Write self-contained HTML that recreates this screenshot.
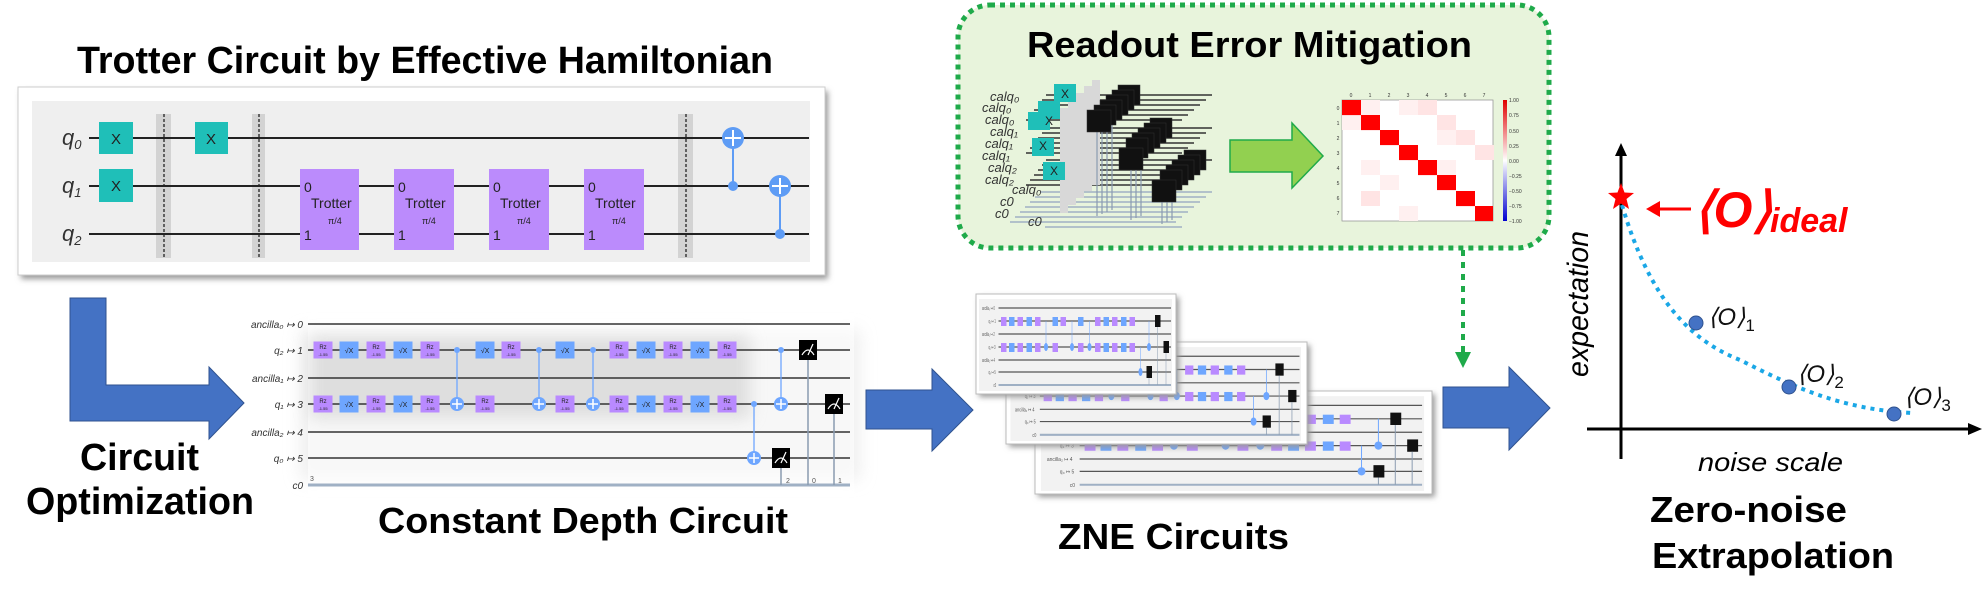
<!DOCTYPE html>
<html><head><meta charset="utf-8"><style>
html,body{margin:0;padding:0;background:#fff;}
svg{display:block;}
text{font-family:"Liberation Sans",sans-serif;}
</style></head><body>
<svg width="1983" height="600" viewBox="0 0 1983 600" xmlns="http://www.w3.org/2000/svg">
<defs>
<filter id="sh" x="-10%" y="-10%" width="120%" height="130%"><feGaussianBlur stdDeviation="3"/></filter>
<filter id="blur8" x="-20%" y="-50%" width="140%" height="200%"><feGaussianBlur stdDeviation="8"/></filter>
<linearGradient id="cb" x1="0" y1="0" x2="0" y2="1">
<stop offset="0" stop-color="#e00000"/><stop offset="0.5" stop-color="#ffffff"/><stop offset="1" stop-color="#0000d0"/></linearGradient>
<g id="rz"><rect x="-9.5" y="-8.5" width="19" height="17" fill="#b98aff"/><text x="0" y="-1" font-size="6" text-anchor="middle" fill="#222">Rz</text><text x="0" y="6" font-size="4" text-anchor="middle" fill="#222">-1.55</text></g>
<g id="sx"><rect x="-9.5" y="-8.5" width="19" height="17" fill="#6ea6ff"/><text x="0" y="3" font-size="7" text-anchor="middle" fill="#222">√X</text></g>
<g id="ctl"><circle r="3" fill="#6ea6ff"/></g>
<g id="tgt"><circle r="7" fill="#6ea6ff"/><path d="M-5 0H5M0 -5V5" stroke="#fff" stroke-width="1.5"/></g>
<g id="meas"><rect x="-9" y="-10" width="18" height="20" fill="#000"/><path d="M-6 5 Q0 -5 6 5" stroke="#fff" fill="none" stroke-width="1.2"/><path d="M0 5 L5 -6" stroke="#fff" stroke-width="1.2"/></g>
<g id="zc">
<rect x="6" y="5" width="386" height="92" fill="#f2f2f2"/>
<g stroke="#555" stroke-width="1.2"><path d="M45 14H390M45 27H390M45 40H390M45 53H390M45 66H390M45 78H390"/></g>
<path d="M45 91H390" stroke="#9fb0c4" stroke-width="2"/>
<g font-size="5" fill="#555"><text x="12" y="16">ancilla₀ ↦ 0</text><text x="25" y="29">q₂ ↦ 1</text><text x="12" y="42">ancilla₁ ↦ 2</text><text x="25" y="55">q₁ ↦ 3</text><text x="12" y="68">ancilla₂ ↦ 4</text><text x="25" y="80">q₀ ↦ 5</text><text x="35" y="93">c0</text></g>
<g fill="#b98aff"><rect x="50" y="23" width="11" height="9"/><rect x="83" y="23" width="11" height="9"/><rect x="118" y="23" width="11" height="9"/><rect x="169" y="23" width="11" height="9"/><rect x="238" y="23" width="11" height="9"/><rect x="272" y="23" width="11" height="9"/><rect x="307" y="23" width="11" height="9"/>
<rect x="50" y="49" width="11" height="9"/><rect x="83" y="49" width="11" height="9"/><rect x="118" y="49" width="11" height="9"/><rect x="153" y="49" width="11" height="9"/><rect x="204" y="49" width="11" height="9"/><rect x="238" y="49" width="11" height="9"/><rect x="272" y="49" width="11" height="9"/><rect x="307" y="49" width="11" height="9"/></g>
<g fill="#6ea6ff"><rect x="66" y="23" width="11" height="9"/><rect x="101" y="23" width="11" height="9"/><rect x="153" y="23" width="11" height="9"/><rect x="204" y="23" width="11" height="9"/><rect x="255" y="23" width="11" height="9"/><rect x="290" y="23" width="11" height="9"/>
<rect x="66" y="49" width="11" height="9"/><rect x="101" y="49" width="11" height="9"/><rect x="255" y="49" width="11" height="9"/><rect x="290" y="49" width="11" height="9"/></g>
<g stroke="#6ea6ff" stroke-width="1"><path d="M140 27V53M192 27V53M227 27V53M346 27V53M329 53V78"/></g>
<g fill="#6ea6ff"><circle cx="140" cy="53" r="4"/><circle cx="192" cy="53" r="4"/><circle cx="227" cy="53" r="4"/><circle cx="346" cy="53" r="4"/><circle cx="329" cy="78" r="4"/></g>
<g fill="#111"><rect x="358" y="21" width="11" height="12"/><rect x="375" y="47" width="11" height="12"/><rect x="341" y="72" width="11" height="12"/></g>
<g stroke="#8a9bb0" stroke-width="1"><path d="M363 33V91M380 59V91M346 84V91"/></g>
</g>
</defs>

<text x="77" y="73" font-size="38" font-weight="bold" textLength="696" lengthAdjust="spacingAndGlyphs">Trotter Circuit by Effective Hamiltonian</text>
<rect x="21" y="91" width="807" height="188" fill="#999" filter="url(#sh)"/>
<rect x="18" y="87" width="807" height="188" fill="#fff" stroke="#ccc"/>
<rect x="32" y="101" width="778" height="161" fill="#efefef"/>
<g fill="#d3d3d3"><rect x="156" y="114" width="15" height="144"/><rect x="252" y="114" width="13" height="144"/><rect x="678" y="114" width="15" height="144"/></g>
<g stroke="#222" stroke-width="1.3" stroke-dasharray="3,2"><path d="M164 114V258M259 114V258M686 114V258"/></g>
<g stroke="#222" stroke-width="2"><path d="M89 138H809M89 186H809M89 234H809"/></g>
<g font-family="Liberation Serif" font-style="italic" font-size="22" fill="#333">
<text x="62" y="145">q<tspan font-size="13" dy="4">0</tspan></text>
<text x="62" y="193">q<tspan font-size="13" dy="4">1</tspan></text>
<text x="62" y="241">q<tspan font-size="13" dy="4">2</tspan></text></g>
<g fill="#1fbfb8"><rect x="99" y="122" width="34" height="32"/><rect x="99" y="169" width="34" height="33"/><rect x="195" y="122" width="33" height="32"/></g>
<g font-size="15" fill="#222" text-anchor="middle"><text x="116" y="144">X</text><text x="116" y="191">X</text><text x="211" y="144">X</text></g>
<g fill="#bb8bfc"><rect x="300" y="169" width="59" height="81"/><rect x="394" y="169" width="60" height="81"/><rect x="489" y="169" width="60" height="81"/><rect x="584" y="169" width="60" height="81"/></g>
<g font-size="14" fill="#222">
<text x="304" y="192">0</text><text x="304" y="240">1</text><text x="311" y="208">Trotter</text><text x="328" y="224" font-size="9">π/4</text>
<text x="398" y="192">0</text><text x="398" y="240">1</text><text x="405" y="208">Trotter</text><text x="422" y="224" font-size="9">π/4</text>
<text x="493" y="192">0</text><text x="493" y="240">1</text><text x="500" y="208">Trotter</text><text x="517" y="224" font-size="9">π/4</text>
<text x="588" y="192">0</text><text x="588" y="240">1</text><text x="595" y="208">Trotter</text><text x="612" y="224" font-size="9">π/4</text></g>
<g stroke="#5e9cf5" stroke-width="2"><path d="M733 138V186M780 186V234"/></g>
<g fill="#5e9cf5"><circle cx="733" cy="186" r="5"/><circle cx="780" cy="234" r="5"/><circle cx="733" cy="138" r="11"/><circle cx="780" cy="186" r="11"/></g>
<g stroke="#fff" stroke-width="2"><path d="M725 138H741M733 130V146M772 186H788M780 178V194"/></g>

<path d="M70 298H106V385H209V367L244 403L209 439V421H70Z" fill="#4472c4" stroke="#2f528f" stroke-width="1"/>
<text x="80" y="470" font-size="38" font-weight="bold" textLength="119" lengthAdjust="spacingAndGlyphs">Circuit</text>
<text x="26" y="514" font-size="38" font-weight="bold" textLength="228" lengthAdjust="spacingAndGlyphs">Optimization</text>

<rect x="300" y="330" width="560" height="150" fill="#e8e8e8" filter="url(#blur8)" opacity="0.7"/>
<rect x="308" y="316" width="546" height="180" fill="#fff" opacity="0.55"/>
<rect x="310" y="336" width="440" height="82" fill="#d8d8d8" filter="url(#blur8)" opacity="0.8"/>
<g stroke="#333" stroke-width="1.5"><path d="M308 324H850M308 350H850M308 378H850M308 404H850M308 432H850M308 458H850"/></g>
<path d="M308 485H850" stroke="#9fb0c4" stroke-width="3"/>
<g font-size="10" fill="#333" text-anchor="end" font-style="italic">
<text x="303" y="328">ancilla₀ ↦ 0</text><text x="303" y="354">q₂ ↦ 1</text><text x="303" y="382">ancilla₁ ↦ 2</text><text x="303" y="408">q₁ ↦ 3</text><text x="303" y="436">ancilla₂ ↦ 4</text><text x="303" y="462">q₀ ↦ 5</text><text x="303" y="489">c0</text></g>
<g stroke="#6ea6ff" stroke-width="1.3"><path d="M457 350V404M539 350V404M593 350V404M781 350V404M754 404V458"/></g>
<g stroke="#8a9bb0" stroke-width="1.5"><path d="M808 360V485M834 414V485M781 468V485"/></g>
<use href="#rz" x="323" y="350"/><use href="#sx" x="349" y="350"/><use href="#rz" x="376" y="350"/><use href="#sx" x="403" y="350"/><use href="#rz" x="430" y="350"/><use href="#ctl" x="457" y="350"/><use href="#sx" x="485" y="350"/><use href="#rz" x="511" y="350"/><use href="#ctl" x="539" y="350"/><use href="#sx" x="565" y="350"/><use href="#ctl" x="593" y="350"/><use href="#rz" x="619" y="350"/><use href="#sx" x="646" y="350"/><use href="#rz" x="673" y="350"/><use href="#sx" x="700" y="350"/><use href="#rz" x="727" y="350"/><use href="#ctl" x="781" y="350"/><use href="#meas" x="808" y="350"/>
<use href="#rz" x="323" y="404"/><use href="#sx" x="349" y="404"/><use href="#rz" x="376" y="404"/><use href="#sx" x="403" y="404"/><use href="#rz" x="430" y="404"/><use href="#tgt" x="457" y="404"/><use href="#rz" x="485" y="404"/><use href="#tgt" x="539" y="404"/><use href="#rz" x="565" y="404"/><use href="#tgt" x="593" y="404"/><use href="#rz" x="619" y="404"/><use href="#sx" x="646" y="404"/><use href="#rz" x="673" y="404"/><use href="#sx" x="700" y="404"/><use href="#rz" x="727" y="404"/><use href="#ctl" x="754" y="404"/><use href="#tgt" x="781" y="404"/><use href="#meas" x="834" y="404"/>
<use href="#tgt" x="754" y="458"/><use href="#meas" x="781" y="458"/>
<g font-size="7" fill="#555"><text x="310" y="481">3</text><text x="786" y="483">2</text><text x="812" y="483">0</text><text x="838" y="483">1</text></g>
<text x="378" y="533" font-size="36" font-weight="bold" textLength="410" lengthAdjust="spacingAndGlyphs">Constant Depth Circuit</text>

<path d="M866 390H932V369L973 410L932 451V429H866Z" fill="#4472c4" stroke="#2f528f"/>

<rect x="958" y="5" width="591" height="243" rx="32" fill="#e8f4dc" stroke="#1faa4a" stroke-width="5" stroke-dasharray="5,5"/>
<text x="1027" y="57" font-size="36" font-weight="bold" textLength="445" lengthAdjust="spacingAndGlyphs">Readout Error Mitigation</text>
<g stroke="#333" stroke-width="1.5">
<path d="M1046 95H1212M1042 100H1206M1038 105H1200M1034 110H1194M1030 115H1188M1026 120H1182"/>
<path d="M1046 128H1212M1042 133H1206M1038 138H1200M1034 143H1194M1030 148H1188M1026 153H1182"/>
<path d="M1046 160H1212M1042 165H1206M1038 170H1200M1034 175H1194M1030 180H1188M1026 185H1182"/></g>
<g stroke="#9fb0c4" stroke-width="1.5"><path d="M1040 192H1212M1035 197H1206M1030 202H1200M1025 207H1194M1020 212H1188M1015 217H1182M1010 222H1176M1045 227H1182"/></g>
<g fill="#d8d8d8"><rect x="1060" y="108" width="8" height="105"/><rect x="1068" y="100" width="8" height="105"/><rect x="1076" y="93" width="8" height="105"/><rect x="1084" y="86" width="8" height="105"/><rect x="1092" y="80" width="8" height="105"/></g>
<g fill="#1fbfb8"><rect x="1054" y="84" width="22" height="18"/><rect x="1038" y="101" width="22" height="18"/><rect x="1028" y="112" width="22" height="18"/><rect x="1032" y="138" width="22" height="18"/><rect x="1043" y="162" width="22" height="18"/></g>
<g font-size="12" fill="#222" text-anchor="middle"><text x="1065" y="98">X</text><text x="1049" y="125">X</text><text x="1043" y="150">X</text><text x="1054" y="175">X</text></g>
<g stroke="#8a9bb0" stroke-width="1.2"><path d="M1097 130V216M1102 125V214M1107 120V212M1112 115V210M1131 162V220M1136 157V218M1141 152V216M1162 195V224M1167 190V222M1172 185V220"/></g>
<g fill="#111" stroke="#333" stroke-width="0.5">
<rect x="1118" y="85" width="22" height="20"/><rect x="1112" y="90" width="22" height="20"/><rect x="1106" y="95" width="22" height="20"/><rect x="1100" y="100" width="22" height="20"/><rect x="1094" y="105" width="22" height="20"/><rect x="1087" y="110" width="24" height="22"/>
<rect x="1150" y="118" width="22" height="20"/><rect x="1144" y="123" width="22" height="20"/><rect x="1138" y="128" width="22" height="20"/><rect x="1132" y="133" width="22" height="20"/><rect x="1126" y="138" width="22" height="20"/><rect x="1119" y="148" width="24" height="22"/>
<rect x="1184" y="150" width="22" height="20"/><rect x="1178" y="155" width="22" height="20"/><rect x="1172" y="160" width="22" height="20"/><rect x="1166" y="165" width="22" height="20"/><rect x="1160" y="170" width="22" height="20"/><rect x="1152" y="180" width="24" height="22"/></g>
<g font-size="13" fill="#333" font-style="italic"><text x="990" y="101">calq₀</text><text x="982" y="112">calq₀</text><text x="985" y="124">calq₀</text><text x="990" y="136">calq₁</text><text x="985" y="148">calq₁</text><text x="982" y="160">calq₁</text><text x="988" y="172">calq₂</text><text x="985" y="184">calq₂</text><text x="1012" y="194">calq₀</text><text x="1000" y="206">c0</text><text x="995" y="218">c0</text><text x="1028" y="226">c0</text></g>
<path d="M1230 140H1292V123L1323 156L1292 188V172H1230Z" fill="#92d050" stroke="#1faa4a" stroke-width="1.5"/>
<rect x="1342" y="100" width="151" height="121" fill="#fff" stroke="#999" stroke-width="0.8"/>
<g fill="#fff0f0"><rect x="1361" y="100" width="19" height="15"/><rect x="1399" y="100" width="19" height="15"/><rect x="1342" y="115" width="19" height="15"/><rect x="1437" y="130" width="19" height="15"/><rect x="1361" y="160" width="19" height="15"/><rect x="1380" y="175" width="19" height="15"/><rect x="1399" y="206" width="19" height="15"/><rect x="1437" y="160" width="19" height="15"/></g>
<g fill="#ffe4e4"><rect x="1418" y="100" width="19" height="15"/><rect x="1437" y="115" width="19" height="15"/><rect x="1456" y="130" width="19" height="15"/><rect x="1475" y="145" width="19" height="15"/><rect x="1361" y="191" width="19" height="15"/></g>
<g fill="#ff0000"><rect x="1342" y="100" width="19" height="15.1"/><rect x="1361" y="115" width="19" height="15.1"/><rect x="1380" y="130" width="19" height="15.1"/><rect x="1399" y="145" width="19" height="15.1"/><rect x="1418" y="160" width="19" height="15.1"/><rect x="1437" y="175" width="19" height="15.1"/><rect x="1456" y="191" width="19" height="15.1"/><rect x="1475" y="206" width="18" height="15"/></g>
<g font-size="5" fill="#333" text-anchor="middle"><text x="1351" y="97">0</text><text x="1370" y="97">1</text><text x="1389" y="97">2</text><text x="1408" y="97">3</text><text x="1427" y="97">4</text><text x="1446" y="97">5</text><text x="1465" y="97">6</text><text x="1484" y="97">7</text>
<text x="1338" y="110">0</text><text x="1338" y="125">1</text><text x="1338" y="140">2</text><text x="1338" y="155">3</text><text x="1338" y="170">4</text><text x="1338" y="185">5</text><text x="1338" y="200">6</text><text x="1338" y="215">7</text></g>
<rect x="1503" y="100" width="4" height="121" fill="url(#cb)"/>
<g font-size="5" fill="#333"><text x="1509" y="102">1.00</text><text x="1509" y="117">0.75</text><text x="1509" y="133">0.50</text><text x="1509" y="148">0.25</text><text x="1509" y="163">0.00</text><text x="1509" y="178">−0.25</text><text x="1509" y="193">−0.50</text><text x="1509" y="208">−0.75</text><text x="1509" y="223">−1.00</text></g>
<path d="M1463 250V352" stroke="#1faa4a" stroke-width="4" stroke-dasharray="6,6"/>
<path d="M1455 352H1471L1463 368Z" fill="#1faa4a"/>

<rect x="1038" y="394" width="397" height="103" fill="#999" filter="url(#sh)"/>
<rect x="1035" y="391" width="397" height="103" fill="#fff" stroke="#bbb"/>
<g transform="translate(1035 391) scale(0.9925 1.03)"><use href="#zc"/></g>
<rect x="1009" y="345" width="301" height="102" fill="#999" filter="url(#sh)"/>
<rect x="1006" y="342" width="301" height="102" fill="#fff" stroke="#bbb"/>
<g transform="translate(1006 342) scale(0.7525 1.02)"><use href="#zc"/></g>
<rect x="979" y="297" width="200" height="100" fill="#999" filter="url(#sh)"/>
<rect x="976" y="294" width="200" height="100" fill="#fff" stroke="#bbb"/>
<g transform="translate(976 294) scale(0.5 1)"><use href="#zc"/></g>
<text x="1058" y="549" font-size="36" font-weight="bold" textLength="231" lengthAdjust="spacingAndGlyphs">ZNE Circuits</text>

<path d="M1443 387H1509V367L1550 408L1509 450V428H1443Z" fill="#4472c4" stroke="#2f528f"/>

<path d="M1621 459V152" stroke="#000" stroke-width="3"/>
<path d="M1615 156L1621 143L1627 156Z" fill="#000"/>
<path d="M1587 429H1972" stroke="#000" stroke-width="3"/>
<path d="M1968 423L1982 429L1968 435Z" fill="#000"/>
<path d="M1622 205 C1650 300 1690 340 1740 360 C1790 385 1840 410 1914 413" fill="none" stroke="#1aa7e6" stroke-width="4" stroke-dasharray="4,5"/>
<g fill="#4472c4" stroke="#2f528f"><circle cx="1696" cy="323" r="7"/><circle cx="1789" cy="387" r="7"/><circle cx="1894" cy="414" r="7"/></g>
<path d="M1621 183L1624.5 192.5L1634 193L1626.5 199L1629 209L1621 203.5L1613 209L1615.5 199L1608 193L1617.5 192.5Z" fill="#ff0000"/>
<path d="M1656 209H1691" stroke="#ff0000" stroke-width="3"/>
<path d="M1646 209L1660 201L1660 217Z" fill="#ff0000"/>
<text x="1694" y="227" font-size="50" fill="#ff0000" font-family="Liberation Serif" font-style="italic" font-weight="bold">⟨O⟩</text>
<text x="1770" y="232" font-size="34" fill="#ff0000" font-family="Liberation Serif" font-weight="bold" font-style="italic">ideal</text>
<g font-family="Liberation Serif" font-style="italic" font-size="24" fill="#111">
<text x="1708" y="325">⟨O⟩<tspan font-size="17" font-style="normal" dy="6">1</tspan></text>
<text x="1797" y="382">⟨O⟩<tspan font-size="17" font-style="normal" dy="6">2</tspan></text>
<text x="1904" y="405">⟨O⟩<tspan font-size="17" font-style="normal" dy="6">3</tspan></text></g>
<text transform="translate(1588 377) rotate(-90)" font-size="30" font-style="italic" textLength="146" lengthAdjust="spacingAndGlyphs">expectation</text>
<text x="1698" y="471" font-size="26" font-style="italic" textLength="145" lengthAdjust="spacingAndGlyphs">noise scale</text>
<text x="1650" y="522" font-size="36" font-weight="bold" textLength="197" lengthAdjust="spacingAndGlyphs">Zero-noise</text>
<text x="1652" y="568" font-size="36" font-weight="bold" textLength="242" lengthAdjust="spacingAndGlyphs">Extrapolation</text>
</svg>
</body></html>
